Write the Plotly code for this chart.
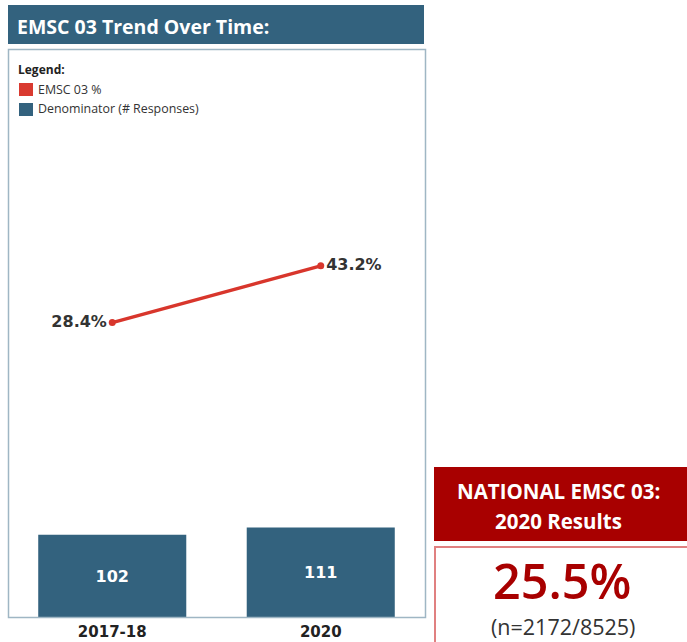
import plotly.graph_objects as go

categories = ["2017-18", "2020"]
pct_values = [28.4, 43.2]
pct_labels = ["28.4%", "43.2%"]
denominators = [102, 111]
national_pct = "25.5%"
national_n = "(n=2172/8525)"

W, H = 687, 642
BLUE = "#33627e"
RED_LINE = "#d8362c"
DARK_RED = "#a80000"

def px(x):
    return x / W

def py(y):
    return (618 - y) / 618

fig = go.Figure()

fig.add_trace(go.Bar(
    x=categories, y=denominators, text=[str(v) for v in denominators],
    textposition="inside", insidetextanchor="middle",
    textfont=dict(color="white", size=16, family="DejaVu Sans", weight="bold"),
    marker=dict(color=BLUE, line=dict(width=0)), width=0.71,
    xaxis="x", yaxis="y", showlegend=False, hoverinfo="skip",
))

fig.add_trace(go.Scatter(
    x=categories, y=pct_values, mode="lines+markers+text",
    text=pct_labels, textposition=["middle left", "middle right"],
    textfont=dict(color="#333333", size=16, family="DejaVu Sans", weight="bold"),
    line=dict(color=RED_LINE, width=3.5), marker=dict(color=RED_LINE, size=7),
    xaxis="x", yaxis="y2", showlegend=False, hoverinfo="skip",
    cliponaxis=False,
))

shapes = [
    dict(type="rect", xref="paper", yref="paper", x0=px(8), x1=px(424), y0=py(44), y1=py(5),
         fillcolor=BLUE, line=dict(width=0), layer="below"),
    dict(type="rect", xref="paper", yref="paper", x0=px(8.5), x1=px(425.5), y0=py(617.5), y1=py(49.5),
         fillcolor="rgba(0,0,0,0)", line=dict(color="#9fb6c4", width=1.5), layer="above"),
    dict(type="rect", xref="paper", yref="paper", x0=px(19), x1=px(33), y0=py(96), y1=py(83),
         fillcolor="#d93a30", line=dict(width=0)),
    dict(type="rect", xref="paper", yref="paper", x0=px(19), x1=px(33), y0=py(116), y1=py(103),
         fillcolor=BLUE, line=dict(width=0)),
    dict(type="rect", xref="paper", yref="paper", x0=px(434), x1=px(687), y0=py(541), y1=py(467),
         fillcolor=DARK_RED, line=dict(width=0)),
    dict(type="rect", xref="paper", yref="paper", x0=px(435), x1=px(688), y0=py(645), y1=py(547),
         fillcolor="white", line=dict(color="#e08080", width=2)),
]

annotations = [
    dict(text="<b>EMSC 03 Trend Over Time:</b>", x=px(15), y=py(26), xref="paper", yref="paper",
         xanchor="left", yanchor="middle", showarrow=False,
         font=dict(color="white", size=19.5, family="Open Sans")),
    dict(text="<b>Legend:</b>", x=px(16), y=py(70), xref="paper", yref="paper",
         xanchor="left", yanchor="middle", showarrow=False,
         font=dict(color="#222222", size=12, family="Open Sans")),
    dict(text="EMSC 03 %", x=px(36), y=py(89), xref="paper", yref="paper",
         xanchor="left", yanchor="middle", showarrow=False,
         font=dict(color="#333333", size=12.4, family="Open Sans")),
    dict(text="Denominator (# Responses)", x=px(36), y=py(109), xref="paper", yref="paper",
         xanchor="left", yanchor="middle", showarrow=False,
         font=dict(color="#333333", size=12.4, family="Open Sans")),
    dict(text="<b>NATIONAL EMSC 03:</b>", x=px(558), y=py(491), xref="paper", yref="paper",
         xanchor="center", yanchor="middle", showarrow=False,
         font=dict(color="white", size=20.5, family="Open Sans")),
    dict(text="<b>2020 Results</b>", x=px(558), y=py(521), xref="paper", yref="paper",
         xanchor="center", yanchor="middle", showarrow=False,
         font=dict(color="white", size=20.5, family="Open Sans")),
    dict(text=national_pct, x=px(562), y=py(580), xref="paper", yref="paper",
         xanchor="center", yanchor="middle", showarrow=False, borderpad=0,
         font=dict(color=DARK_RED, size=48.5, family="Open Sans", weight=600)),
    dict(text=national_n, x=px(563), y=py(626), xref="paper", yref="paper",
         xanchor="center", yanchor="middle", showarrow=False, borderpad=0,
         font=dict(color="#333333", size=21.5, family="Open Sans", weight=500)),
]

fig.update_layout(
    width=W, height=H,
    margin=dict(l=0, r=0, t=0, b=24),
    paper_bgcolor="white", plot_bgcolor="white",
    xaxis=dict(domain=[px(8), px(425)], range=[-0.5, 1.5], type="category",
               tickvals=categories, ticktext=["<b>%s</b>" % c for c in categories],
               showgrid=False, zeroline=False, showline=False, ticks="",
               ticklabelstandoff=3,
               tickfont=dict(color="#222222", size=15, family="DejaVu Sans"),
               fixedrange=True),
    yaxis=dict(domain=[0, py(49)], range=[0, 697], showgrid=False, zeroline=False,
               showline=False, showticklabels=False, fixedrange=True),
    yaxis2=dict(domain=[0, py(49)], range=[-48.7, 99.8], overlaying="y", showgrid=False,
                zeroline=False, showline=False, showticklabels=False, fixedrange=True),
    shapes=shapes, annotations=annotations,
    bargap=0.29,
)

fig.write_html("out.html", config={"displayModeBar": False},
               post_script="document.body.style.margin='0';document.body.style.overflow='hidden';")
